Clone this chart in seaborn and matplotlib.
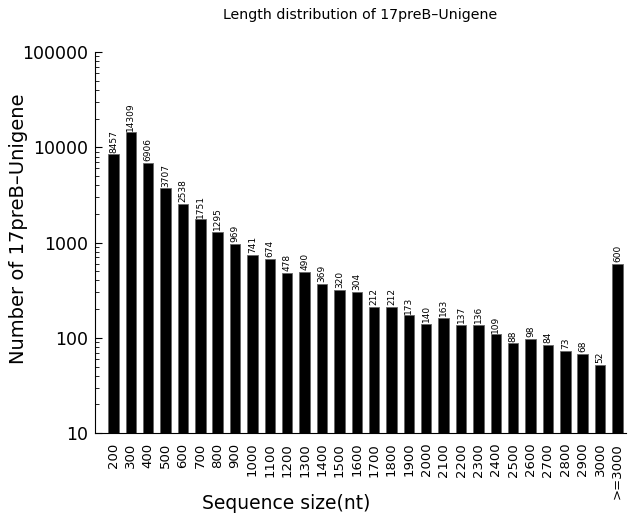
import matplotlib
matplotlib.use("Agg")
import matplotlib.pyplot as plt
import seaborn as sns
import pandas as pd
from matplotlib.ticker import LogLocator, NullFormatter, FixedLocator, FixedFormatter

categories = ["200", "300", "400", "500", "600", "700", "800", "900", "1000", "1100",
              "1200", "1300", "1400", "1500", "1600", "1700", "1800", "1900", "2000", "2100",
              "2200", "2300", "2400", "2500", "2600", "2700", "2800", "2900", "3000", ">=3000"]
counts = [8457, 14309, 6906, 3707, 2538, 1751, 1295, 969, 741, 674,
          478, 490, 369, 320, 304, 212, 212, 173, 140, 163,
          137, 136, 109, 88, 98, 84, 73, 68, 52, 600]
ytick_values = [10, 100, 1000, 10000, 100000]
ytick_labels = ["10", "100", "1000", "10000", "100000"]

df = pd.DataFrame({"size": categories, "count": counts})

sns.set_style("ticks", {"axes.edgecolor": "black", "text.color": "black",
                        "xtick.color": "black", "ytick.color": "black",
                        "axes.labelcolor": "black"})
plt.rcParams['font.family'] = ['DejaVu Sans']

fig = plt.figure(figsize=(6.28, 5.15), dpi=100)
ax = fig.add_axes([0.151, 0.159, 0.846, 0.740])

sns.barplot(data=df, x="size", y="count", color="black", width=0.6,
            edgecolor="#666666", linewidth=0.6, ax=ax, saturation=1)
ax.set_yscale("log")
ax.set_ylim(10, 100000)
ax.set_xlim(-1.07, 29.5)

ax.yaxis.set_major_locator(FixedLocator(ytick_values))
ax.yaxis.set_major_formatter(FixedFormatter(ytick_labels))
ax.yaxis.set_minor_locator(LogLocator(base=10, subs=range(2, 10)))
ax.yaxis.set_minor_formatter(NullFormatter())
ax.tick_params(axis="y", which="major", length=5, labelsize=12.5, direction="in", pad=5)
ax.tick_params(axis="y", which="minor", length=3, direction="in")
ax.tick_params(axis="x", length=0, labelsize=9.5, labelrotation=90, pad=7)

for i, v in enumerate(counts):
    ax.text(i, v * 1.04, str(v), rotation=90, ha="center", va="bottom", fontsize=6.5,
            color="black")

sns.despine(ax=ax, top=True, right=True)
ax.set_xlabel("")
ax.set_ylabel("")
fig.text(0.455, 0.022, "Sequence size(nt)", fontsize=13.5, ha="center", va="center",
         color="black")
fig.text(0.030, 0.555, "Number of 17preB\u2013Unigene", fontsize=14, rotation=90,
         ha="center", va="center", color="black")
ax.set_title("Length distribution of 17preB\u2013Unigene", fontsize=10.2, pad=24,
             color="black")

fig.savefig("out.png", dpi=100)
